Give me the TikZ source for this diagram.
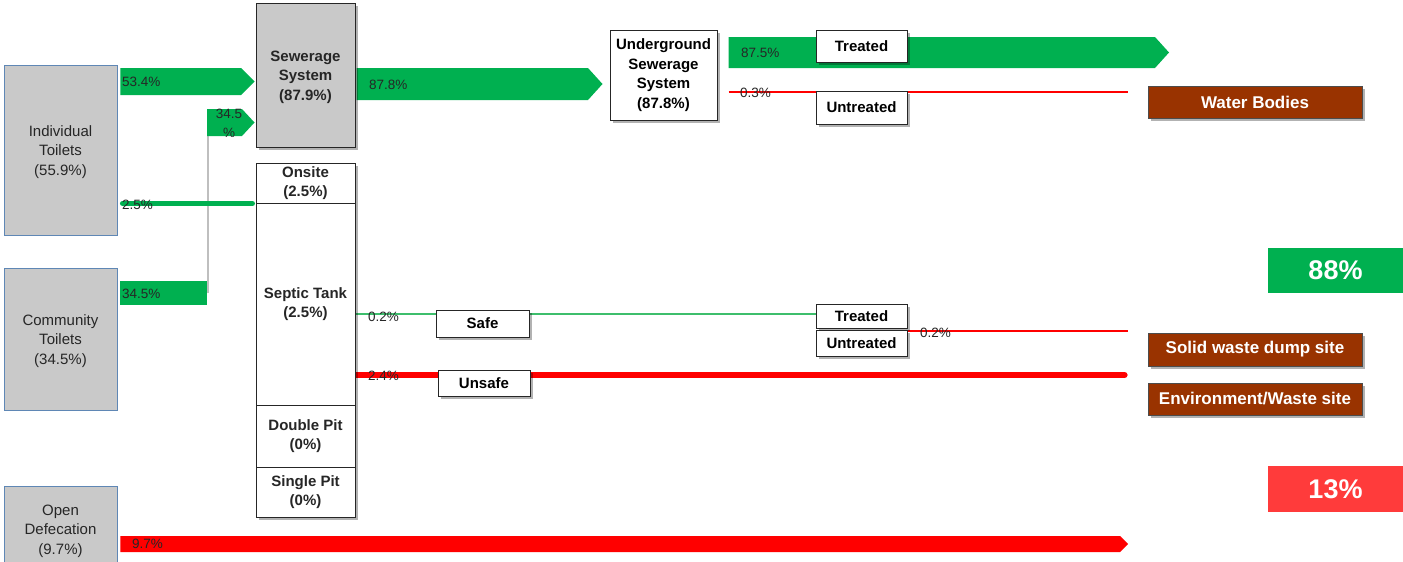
\documentclass[tikz,border=0pt]{standalone}
\usepackage{fontspec}
\setmainfont{Liberation Sans}
\usetikzlibrary{shadows,calc,backgrounds}
\definecolor{flowgreen}{HTML}{00B050}
\definecolor{flowred}{HTML}{FF0000}
\definecolor{thingreen}{HTML}{3DBE6C}
\definecolor{boxgray}{HTML}{C9C9C9}
\definecolor{srcblue}{HTML}{5F87B5}
\definecolor{sinkbrown}{HTML}{993300}
\definecolor{badred}{HTML}{FF3B3B}
\definecolor{txtgray}{HTML}{262626}
\tikzset{
  shd/.style={drop shadow={shadow xshift=2.5pt,shadow yshift=-2.5pt,opacity=0.3,fill=black}},
  srcbox/.style={draw=srcblue, fill=boxgray, line width=0.9pt, inner sep=0pt, align=center,
    text=txtgray, font=\fontsize{15}{19.5}\selectfont},
  srctext/.style={inner sep=0pt, align=center, text=txtgray, font=\fontsize{15}{19.5}\selectfont},
  stagebox/.style={draw=black!85, line width=1pt, inner sep=0pt, align=center, shd,
    text=txtgray, font=\bfseries\fontsize{15}{19.5}\selectfont},
  stagetext/.style={inner sep=0pt, align=center, text=txtgray, font=\bfseries\fontsize{15}{19.5}\selectfont},
  tagbox/.style={draw=black!85, fill=white, line width=1pt, inner sep=0pt, align=center, shd,
    text=black, font=\bfseries\fontsize{15}{18}\selectfont, minimum width=91pt},
  sinkbox/.style={draw=black!70, fill=sinkbrown, line width=0.8pt, inner sep=0pt, align=center, shd,
    text=white, font=\bfseries\fontsize{17}{20}\selectfont, minimum width=214pt},
  sumbox/.style={inner sep=0pt, align=center, text=white, font=\bfseries\fontsize{27}{30}\selectfont,
    minimum width=135pt},
  pct/.style={anchor=west, inner sep=0pt, text=black!85, font=\fontsize{13.5}{16}\selectfont},
}
\begin{document}
\begin{tikzpicture}[x=1pt,y=-1pt]
\useasboundingbox (0,0) rectangle (1403,562);
% sources
\node[srcbox, minimum width=113pt, minimum height=170pt] (ind) at (60.5,150) {};
\node[srctext] (indt) at (ind.center) [yshift=-2pt] {Individual\\Toilets\\(55.9\%)};
\node[srcbox, minimum width=113pt, minimum height=142pt] (com) at (60.5,339) {};
\node[srctext] (comt) at (com.center) [yshift=-2pt] {Community\\Toilets\\(34.5\%)};
\node[srcbox, minimum width=113pt, minimum height=92pt] (od) at (60.5,532) {};
\node[srctext] (odt) at (60.5,531) {Open\\Defecation\\(9.7\%)};
% stages
\node[stagebox, fill=boxgray, minimum width=99pt, minimum height=144pt] (sew) at (305.5,75) {};
\node[stagetext] (sewt) at (sew.center) [yshift=-2pt] {Sewerage\\System\\(87.9\%)};
\node[stagebox, fill=white, minimum width=99pt, minimum height=40pt] (onsite) at (305.5,183) {Onsite\\(2.5\%)};
\node[stagebox, fill=white, minimum width=99pt, minimum height=202pt] (sept) at (305.5,304) {Septic Tank\\(2.5\%)};
\node[stagebox, fill=white, minimum width=99pt, minimum height=62pt] (dpit) at (305.5,436) {Double Pit\\(0\%)};
\node[stagebox, fill=white, minimum width=99pt, minimum height=50pt] (spit) at (305.5,492) {Single Pit\\(0\%)};
\node[stagebox, fill=white, text=black, minimum width=107pt, minimum height=90pt] (under) at (663.5,75) {Underground\\Sewerage\\System\\(87.8\%)};
% tags
\node[tagbox, minimum height=32pt] (tr1) at (861.5,46) {Treated};
\node[tagbox, minimum height=33pt] (ut1) at (861.5,107.5) {Untreated};
\node[tagbox, minimum width=93pt, minimum height=27pt] (safe) at (482.5,323.5) {Safe};
\node[tagbox, minimum width=92pt, minimum height=26pt] (unsafe) at (484,383) {Unsafe};
\node[tagbox, minimum height=24pt] (tr2) at (861.5,316) {Treated};
\node[tagbox, minimum height=26pt] (ut2) at (861.5,343) {Untreated};
% sinks
\node[sinkbox, minimum height=32pt] (water) at (1255,102) {Water Bodies};
\node[sinkbox, minimum height=33pt] (solid) at (1255,349.5) {Solid waste dump site};
\node[sinkbox, minimum height=32pt] (env) at (1255,399) {Environment/Waste site};
\node[sumbox, fill=flowgreen, minimum height=45pt] (good) at (1335.5,270.5) {88\%};
\node[sumbox, fill=badred, minimum height=46pt] (bad) at (1335.5,489) {13\%};
% flows
\begin{scope}[on background layer]
  % 53.4% individual -> sewerage
  \fill[flowgreen] ([xshift=3pt]ind.east |- 0,68) -- (241,68) -- ([xshift=-1pt]sew.west |- 0,81.5)
     -- (241,95) -- ([xshift=3pt]ind.east |- 0,95) -- cycle;
  % 34.5% community -> sewerage
  \fill[flowgreen] ([xshift=3pt]com.east |- 0,281) -- (207,281) -- (207,305) -- ([xshift=3pt]com.east |- 0,305) -- cycle;
  \draw[black!25, line width=1.2pt] (208,293) -- (208,136);
  \fill[flowgreen] (207,109) -- (242,109) -- ([xshift=-1pt]sew.west |- 0,122.5) -- (242,136) -- (207,136) -- cycle;
  % 2.5% individual -> onsite
  \draw[flowgreen, line width=5pt, line cap=round] ([xshift=5pt]ind.east |- onsite.south west) -- ([xshift=-3pt]onsite.south west);
  % 87.8% sewerage -> underground
  \fill[flowgreen] ([xshift=1pt]sew.east |- 0,68) -- (588,68) -- ([xshift=-7pt]under.west |- 0,84)
     -- (588,100) -- ([xshift=1pt]sew.east |- 0,100) -- cycle;
  % 87.5% treated
  \fill[flowgreen] ([xshift=11pt]under.east |- 0,37) -- (1155,37) -- (1169,52.5) -- (1155,68)
     -- ([xshift=11pt]under.east |- 0,68) -- cycle;
  % 0.3% untreated
  \draw[flowred, line width=1.3pt] ([xshift=11pt]under.east |- 0,92) -- ([xshift=-20pt]water.west |- 0,92);
  % septic safe
  \draw[thingreen, line width=1.3pt] (sept.east |- 0,314) -- (tr2.west |- 0,314);
  \draw[flowred, line width=1.3pt] (ut2.east |- 0,331) -- ([xshift=-20pt]solid.west |- 0,331);
  % septic unsafe
  \draw[flowred, line width=6pt] (sept.east |- 0,375) -- ([xshift=-23pt]solid.west |- 0,375);
  \fill[flowred] ([xshift=-23pt]solid.west |- 0,375) circle (3pt);
  % 9.7% open defecation
  \fill[flowred] ([xshift=3pt]od.east |- 0,536) -- (1120,536) -- (1128,544) -- (1120,552)
     -- ([xshift=3pt]od.east |- 0,552) -- cycle;
\end{scope}
% labels
\node[pct] (l534) at (122,82) {53.4\%};
\node[pct, anchor=center] (l345a) at (229,114) {34.5};
\node[pct, anchor=center] (l345b) at (229,133) {\%};
\node[pct] (l25) at (122,205) {2.5\%};
\node[pct] (l345) at (122,294) {34.5\%};
\node[pct] (l878) at (369,85) {87.8\%};
\node[pct] (l875) at (741,53) {87.5\%};
\node[pct] (l03) at (740,93) {0.3\%};
\node[pct] (l02a) at (368,317) {0.2\%};
\node[pct] (l24) at (368,376) {2.4\%};
\node[pct] (l02b) at (920,333) {0.2\%};
\node[pct] (l97) at (132,544) {9.7\%};
\end{tikzpicture}
\end{document}
